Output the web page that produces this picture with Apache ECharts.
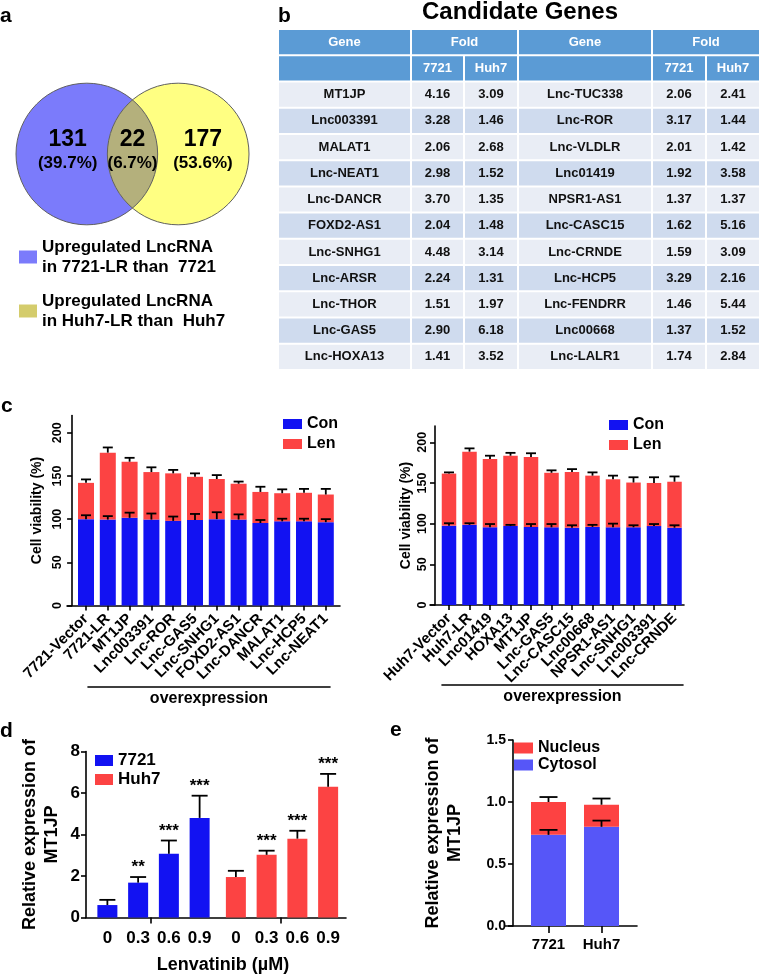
<!DOCTYPE html>
<html><head><meta charset="utf-8">
<script src="https://cdn.jsdelivr.net/npm/echarts@6/dist/echarts.min.js"></script>
<style>html,body{margin:0;padding:0;background:#fff}#c{width:762px;height:978px}</style>
</head><body><div id="c"></div>
<script>
// ================= DATA =================
// a) Venn
const vennLegend = ['Upregulated LncRNA\nin 7721-LR than  7721', 'Upregulated LncRNA\nin Huh7-LR than  Huh7'];
const vennCounts = [131, 22, 177]; // 7721-only, both, Huh7-only

// b) Candidate genes table
const tableTitle = 'Candidate Genes';
const tableHead1 = ['Gene', 'Fold', 'Gene', 'Fold'];
const tableHead2 = ['7721', 'Huh7'];
const genesL = ['MT1JP','Lnc003391','MALAT1','Lnc-NEAT1','Lnc-DANCR','FOXD2-AS1','Lnc-SNHG1','Lnc-ARSR','Lnc-THOR','Lnc-GAS5','Lnc-HOXA13'];
const fold7721L = [4.16,3.28,2.06,2.98,3.70,2.04,4.48,2.24,1.51,2.90,1.41];
const foldHuh7L = [3.09,1.46,2.68,1.52,1.35,1.48,3.14,1.31,1.97,6.18,3.52];
const genesR = ['Lnc-TUC338','Lnc-ROR','Lnc-VLDLR','Lnc01419','NPSR1-AS1','Lnc-CASC15','Lnc-CRNDE','Lnc-HCP5','Lnc-FENDRR','Lnc00668','Lnc-LALR1'];
const fold7721R = [2.06,3.17,2.01,1.92,1.37,1.62,1.59,3.29,1.46,1.37,1.74];
const foldHuh7R = [2.41,1.44,1.42,3.58,1.37,5.16,3.09,2.16,5.44,1.52,2.84];

// c) Cell viability
const cLeftCats = ['7721-Vector','7721-LR','MT1JP','Lnc003391','Lnc-ROR','Lnc-GAS5','Lnc-SNHG1','FOXD2-AS1','Lnc-DANCR','MALAT1','Lnc-HCP5','Lnc-NEAT1'];
const cLeftCon    = [100, 99.5, 101.5, 99.5, 98, 99, 100, 99.5, 95.5, 97.5, 97.5, 96.5];
const cLeftConErr = [4.5, 4, 6, 7, 5, 7, 8, 6, 3.5, 3, 3, 3.5];
const cLeftLen    = [42, 77.5, 65, 55, 55, 50, 46.5, 41.5, 36, 32.5, 33, 32];
const cLeftLenErr = [4, 6, 4.5, 5.5, 4, 4, 4.5, 2.5, 6, 4.5, 4.5, 6.5];
const cRightCats = ['Huh7-Vector','Huh7-LR','Lnc01419','HOXA13','MT1JP','Lnc-GAS5','Lnc-CASC15','Lnc00668','NPSR1-AS1','Lnc-SNHG1','Lnc003391','Lnc-CRNDE'];
const cRightCon    = [97.5, 98.5, 95.5, 97, 96, 95.5, 95, 96, 95.5, 95.5, 97, 95];
const cRightConErr = [3, 2, 4, 1.5, 3.5, 4, 3, 2.5, 4.5, 2.5, 2.5, 3];
const cRightLen    = [64, 90, 84, 86.5, 86, 67, 68.5, 63, 59, 55, 53, 56.5];
const cRightLenErr = [1.5, 4, 4, 3.5, 4.5, 3, 3.5, 4, 4.5, 6.5, 7, 6.5];
const cYTicks = [0, 50, 100, 150, 200];

// d) MT1JP vs Lenvatinib
const dDoses = ['0', '0.3', '0.6', '0.9'];
const d7721 = [0.6, 1.68, 3.07, 4.8];
const d7721Err = [0.25, 0.27, 0.64, 1.07];
const d7721Stars = ['', '**', '***', '***'];
const dHuh7 = [1.95, 3.02, 3.8, 6.3];
const dHuh7Err = [0.3, 0.2, 0.38, 0.62];
const dHuh7Stars = ['', '***', '***', '***'];

// e) Subcellular distribution
const eCells = ['7721', 'Huh7'];
const eCytosol = [0.735, 0.80];
const eCytosolErr = [0.04, 0.05];
const eNucleus = [0.265, 0.178];
const eNucleusErr = [0.04, 0.05];

// ================= STYLE / LAYOUT =================
const FONT = '"Liberation Sans", Arial, Helvetica, sans-serif';
const bf = s => 'bold ' + s + 'px ' + FONT;
const BLUE = '#1212f2', RED = '#fc4343';
const CYT = '#5656f8', NUC = '#fd4242';
const VENN_A = '#7b7bfb', VENN_B = '#ffff82', VENN_AB = '#b4b07c', VENN_B_ICON = '#d4cc6c';
const VG = {r: 1, cx: [1, 2.29], cy: 1, labelX: [0.73, 1.645, 2.64], numY: 1.2, pctY: 0.87};
const COLW = [133, 53, 54, 134, 54, 54];
const colEdge = [0]; COLW.forEach(w => colEdge.push(colEdge[colEdge.length - 1] + w));
const AX = {color: '#000', width: 1.6};
const txt = (size) => ({color: '#000', fontWeight: 'bold', fontSize: size, fontFamily: FONT});

const grids = [], xAxes = [], yAxes = [], series = [];
function addGrid(rect, xa, ya) {
  const i = grids.length;
  grids.push(Object.assign({containLabel: false}, rect));
  xAxes.push(Object.assign({gridIndex: i}, xa));
  yAxes.push(Object.assign({gridIndex: i}, ya));
  return i;
}
function errRender(capHalf, stars, lw) {
  return function (params, api) {
    const x = api.value(0), top = api.value(1), e = api.value(2);
    const p0 = api.coord([x, top]), p1 = api.coord([x, top + e]);
    const st = {stroke: '#000', lineWidth: lw || 1.8};
    const ch = [
      {type: 'line', shape: {x1: p0[0], y1: p0[1], x2: p1[0], y2: p1[1]}, style: st},
      {type: 'line', shape: {x1: p1[0] - capHalf, y1: p1[1], x2: p1[0] + capHalf, y2: p1[1]}, style: st}
    ];
    if (stars && stars[params.dataIndex]) {
      ch.push({type: 'text', x: p1[0], y: p1[1] - 1,
        style: {text: stars[params.dataIndex], font: bf(17), fill: '#000', align: 'center', verticalAlign: 'bottom'}});
    }
    return {type: 'group', children: ch};
  };
}
function errSeries(g, data, capHalf, stars) {
  return {type: 'custom', xAxisIndex: g, yAxisIndex: g, data: data, z: 6, silent: true,
    encode: {x: 0, y: 1}, renderItem: errRender(capHalf, stars)};
}

// ---------- a) Venn ----------
const gV = addGrid({left: 16, top: 83, width: 233, height: 142},
  {type: 'value', min: 0, max: 3.29, show: false},
  {type: 'value', min: 0, max: 2, show: false});
function circleRender(i, fill) {
  return function (params, api) {
    const c = api.coord([VG.cx[i], VG.cy]);
    const r = api.size([VG.r, 0])[0];
    return {type: 'circle', shape: {cx: c[0], cy: c[1], r: r}, style: {fill: fill}};
  };
}
series.push({type: 'custom', name: vennLegend[0], xAxisIndex: gV, yAxisIndex: gV, z: 2, silent: true,
  data: [[0, 0, vennCounts[0] + vennCounts[1]]], renderItem: circleRender(0, VENN_A)});
series.push({type: 'custom', name: vennLegend[1], xAxisIndex: gV, yAxisIndex: gV, z: 3, silent: true,
  data: [[0, 0, vennCounts[2] + vennCounts[1]]], renderItem: circleRender(1, VENN_B)});
const vennTotal = vennCounts.reduce((a, b) => a + b, 0);
series.push({type: 'custom', name: 'overlap', xAxisIndex: gV, yAxisIndex: gV, z: 4, silent: true,
  data: [[0, 0, vennCounts[1]]],
  renderItem: function (params, api) {
    const c0 = api.coord([VG.cx[0], VG.cy]), c1 = api.coord([VG.cx[1], VG.cy]);
    const r = api.size([VG.r, 0])[0];
    const a = (c1[0] - c0[0]) / 2, h = Math.sqrt(r * r - a * a), mx = c0[0] + a;
    const path = 'M' + mx + ' ' + (c0[1] - h) + ' A' + r + ' ' + r + ' 0 0 1 ' + mx + ' ' + (c0[1] + h) +
      ' A' + r + ' ' + r + ' 0 0 1 ' + mx + ' ' + (c0[1] - h) + ' Z';
    const ch = [
      {type: 'path', shape: {pathData: path}, style: {fill: VENN_AB}},
      {type: 'circle', shape: {cx: c0[0], cy: c0[1], r: r}, style: {fill: 'none', stroke: '#606060', lineWidth: 1}},
      {type: 'circle', shape: {cx: c1[0], cy: c1[1], r: r}, style: {fill: 'none', stroke: '#606060', lineWidth: 1}}
    ];
    vennCounts.forEach((v, i) => {
      const pn = api.coord([VG.labelX[i], VG.numY]);
      const pp = api.coord([VG.labelX[i], VG.pctY]);
      ch.push({type: 'text', x: pn[0], y: pn[1], style: {text: String(v), font: bf(23), fill: '#000', align: 'center', verticalAlign: 'middle'}});
      ch.push({type: 'text', x: pp[0], y: pp[1], style: {text: '(' + (v / vennTotal * 100).toFixed(1) + '%)', font: bf(17), fill: '#000', align: 'center', verticalAlign: 'middle'}});
    });
    return {type: 'group', children: ch};
  }});

// ---------- b) Table ----------
const tableRows = Array.from({length: genesL.length + 2}, (_, i) => i);
const cells = [];
cells.push([0, 0, 0, tableHead1[0]], [1, 2, 0, tableHead1[1]], [3, 3, 0, tableHead1[2]], [4, 5, 0, tableHead1[3]]);
cells.push([0, 0, 1, ''], [1, 1, 1, tableHead2[0]], [2, 2, 1, tableHead2[1]], [3, 3, 1, ''], [4, 4, 1, tableHead2[0]], [5, 5, 1, tableHead2[1]]);
genesL.forEach((g, i) => {
  const r = i + 2;
  cells.push([0, 0, r, g], [1, 1, r, fold7721L[i].toFixed(2)], [2, 2, r, foldHuh7L[i].toFixed(2)],
    [3, 3, r, genesR[i]], [4, 4, r, fold7721R[i].toFixed(2)], [5, 5, r, foldHuh7R[i].toFixed(2)]);
});
const gT = addGrid({left: 278, top: 29, width: 482, height: 341},
  {type: 'value', min: 0, max: colEdge[colEdge.length - 1], show: false},
  {type: 'category', data: tableRows, inverse: true, show: false});
series.push({type: 'custom', name: 'table', xAxisIndex: gT, yAxisIndex: gT, silent: true, z: 2,
  encode: {x: [0, 1], y: 2},
  data: cells.map(c => [colEdge[c[0]], colEdge[c[1] + 1], c[2]]),
  renderItem: function (params, api) {
    const row = api.value(2);
    const p0 = api.coord([api.value(0), row]), p1 = api.coord([api.value(1), row]);
    const h = api.size([0, 1])[1];
    const head = row < 2;
    const fill = head ? '#5b9bd5' : ((row - 2) % 2 === 0 ? '#e9edf5' : '#cfdbee');
    return {type: 'group', children: [
      {type: 'rect', shape: {x: p0[0] + 1, y: p0[1] - h / 2 + 1, width: p1[0] - p0[0] - 2, height: h - 2}, style: {fill: fill}},
      {type: 'text', x: (p0[0] + p1[0]) / 2, y: p0[1], style: {text: cells[params.dataIndex][3], font: bf(13),
        fill: head ? '#fff' : '#111', align: 'center', verticalAlign: 'middle'}}
    ]};
  }});

// ---------- c) Cell viability ----------
function panelC(o) {
  addGrid({left: o.frameL, width: o.frameW, top: o.top, height: o.h},
    {type: 'category', data: [''], axisLine: {show: true, lineStyle: AX}, axisTick: {show: false}, axisLabel: {show: false}},
    {type: 'value', min: 0, max: 220, show: false});
  const g = addGrid({left: o.left, width: o.w, top: o.top, height: o.h},
    {type: 'category', data: o.cats, axisLine: {show: false},
      axisTick: {show: true, alignWithLabel: true, length: 5, lineStyle: AX},
      axisLabel: Object.assign({interval: 0, rotate: 45, margin: 11}, txt(15))},
    {type: 'value', min: 0, max: 220, interval: 50, offset: o.yOff,
      axisLine: {show: true, lineStyle: AX}, axisTick: {show: true, length: 5, lineStyle: AX},
      splitLine: {show: false},
      axisLabel: Object.assign({rotate: 90, showMaxLabel: false, margin: o.lblM,
        formatter: v => (cYTicks.indexOf(v) >= 0 ? String(v) : '')}, txt(12.5)),
      name: 'Cell viability (%)', nameLocation: 'middle', nameRotate: 90, nameGap: o.nameGap, nameTextStyle: txt(14)});
  addGrid({left: o.ulL, width: o.ulW, top: o.top, height: o.ulY - o.top},
    {type: 'category', data: [''], axisLine: {show: true, lineStyle: AX}, axisTick: {show: false}, axisLabel: {show: false},
      name: 'overexpression', nameLocation: 'middle', nameGap: 4, nameTextStyle: txt(16)},
    {type: 'value', show: false});
  series.push({type: 'bar', name: 'Con', stack: 'c' + g, xAxisIndex: g, yAxisIndex: g, data: o.con, barWidth: o.bw, itemStyle: {color: BLUE}, z: 3});
  series.push({type: 'bar', name: 'Len', stack: 'c' + g, xAxisIndex: g, yAxisIndex: g, data: o.len, barWidth: o.bw, itemStyle: {color: RED}, z: 3});
  const ed = o.con.map((v, i) => [i, v, o.conErr[i]]).concat(o.len.map((v, i) => [i, o.con[i] + v, o.lenErr[i]]));
  series.push(errSeries(g, ed, 5));
}
panelC({cats: cLeftCats, con: cLeftCon, conErr: cLeftConErr, len: cLeftLen, lenErr: cLeftLenErr,
  top: 415.5, h: 190, left: 75.1, w: 261.6, yOff: 3, lblM: 8, nameGap: 28,
  frameL: 67, frameW: 273, ulL: 88, ulW: 242, ulY: 687, bw: 16});
panelC({cats: cRightCats, con: cRightCon, conErr: cRightConErr, len: cRightLen, lenErr: cRightLenErr,
  top: 426, h: 179, left: 438.75, w: 246, yOff: 3.75, lblM: 6, nameGap: 22,
  frameL: 430, frameW: 254, ulL: 442, ulW: 241, ulY: 685, bw: 14.5});

// ---------- d) MT1JP expression vs Lenvatinib ----------
const dTop = 751.5, dH = 166;
addGrid({left: 86, width: 260, top: dTop, height: dH},
  {type: 'category', data: ['', ''], axisLine: {show: true, lineStyle: AX},
    axisTick: {show: true, alignWithLabel: true, length: 6, lineStyle: AX}, axisLabel: {show: false}},
  {type: 'value', min: 0, max: 8, interval: 2, axisLine: {show: true, lineStyle: AX},
    axisTick: {show: true, length: 5, lineStyle: AX}, splitLine: {show: false},
    axisLabel: Object.assign({margin: 6}, txt(17)),
    name: 'Relative expression of\nMT1JP', nameLocation: 'middle', nameRotate: 90, nameGap: 23,
    nameTextStyle: Object.assign({lineHeight: 22}, txt(18))});
const dLblAxis = data => ({type: 'category', data: data, axisLine: {show: false}, axisTick: {show: false},
  axisLabel: Object.assign({interval: 0, margin: 12}, txt(17))});
const gD1 = addGrid({left: 92, width: 123, top: dTop, height: dH}, dLblAxis(dDoses), {type: 'value', min: 0, max: 8, show: false});
const gD2 = addGrid({left: 220.5, width: 123, top: dTop, height: dH}, dLblAxis(dDoses), {type: 'value', min: 0, max: 8, show: false});
series.push({type: 'bar', name: '7721', xAxisIndex: gD1, yAxisIndex: gD1, data: d7721, barWidth: 20, itemStyle: {color: BLUE}, z: 3});
series.push({type: 'bar', name: 'Huh7', xAxisIndex: gD2, yAxisIndex: gD2, data: dHuh7, barWidth: 20, itemStyle: {color: RED}, z: 3});
series.push(errSeries(gD1, d7721.map((v, i) => [i, v, d7721Err[i]]), 8, d7721Stars));
series.push(errSeries(gD2, dHuh7.map((v, i) => [i, v, dHuh7Err[i]]), 8, dHuh7Stars));

// ---------- e) Subcellular distribution ----------
const eTop = 740, eH = 186;
addGrid({left: 505, width: 132, top: eTop, height: eH},
  {type: 'category', data: [''], axisLine: {show: true, lineStyle: AX}, axisTick: {show: false}, axisLabel: {show: false}},
  {type: 'value', min: 0, max: 1.5, show: false});
const gE = addGrid({left: 522, width: 106, top: eTop, height: eH},
  {type: 'category', data: eCells, axisLine: {show: false},
    axisTick: {show: true, alignWithLabel: true, length: 7, lineStyle: AX},
    axisLabel: Object.assign({interval: 0, margin: 11}, txt(15))},
  {type: 'value', min: 0, max: 1.5, interval: 0.5, offset: 9, axisLine: {show: true, lineStyle: AX},
    axisTick: {show: true, length: 5, lineStyle: AX}, splitLine: {show: false},
    axisLabel: Object.assign({margin: 7, formatter: v => v.toFixed(1)}, txt(14)),
    name: 'Relative expression of\nMT1JP', nameLocation: 'middle', nameRotate: 90, nameGap: 47,
    nameTextStyle: Object.assign({lineHeight: 22}, txt(18))});
series.push({type: 'bar', name: 'Cytosol', stack: 'e', xAxisIndex: gE, yAxisIndex: gE, data: eCytosol, barWidth: 35, itemStyle: {color: CYT}, z: 3});
series.push({type: 'bar', name: 'Nucleus', stack: 'e', xAxisIndex: gE, yAxisIndex: gE, data: eNucleus, barWidth: 35, itemStyle: {color: NUC}, z: 3});
series.push(errSeries(gE, eCytosol.map((v, i) => [i, v, eCytosolErr[i]]).concat(eNucleus.map((v, i) => [i, eCytosol[i] + v, eNucleusErr[i]])), 9));

// ---------- legends ----------
const legBase = (o) => Object.assign({orient: 'vertical', icon: 'rect', padding: 0, selectedMode: false}, o);
const legends = [
  legBase({left: 19, top: 237, itemGap: 14, itemWidth: 18, itemHeight: 13,
    data: [{name: vennLegend[0], itemStyle: {color: VENN_A}}, {name: vennLegend[1], itemStyle: {color: VENN_B_ICON}}],
    textStyle: Object.assign({lineHeight: 20}, txt(17))}),
  legBase({left: 283, top: 415, itemGap: 2, itemWidth: 19, itemHeight: 10, data: ['Con', 'Len'],
    textStyle: Object.assign({lineHeight: 18}, txt(16))}),
  legBase({left: 609, top: 416, itemGap: 2, itemWidth: 19, itemHeight: 10, data: ['Con', 'Len'],
    textStyle: Object.assign({lineHeight: 18}, txt(16))}),
  legBase({left: 95, top: 752, itemGap: 2, itemWidth: 18, itemHeight: 11, data: ['7721', 'Huh7'],
    textStyle: Object.assign({lineHeight: 17}, txt(17))}),
  legBase({left: 514, top: 740, itemGap: 1, itemWidth: 19, itemHeight: 11, data: ['Nucleus', 'Cytosol'],
    textStyle: Object.assign({lineHeight: 16}, txt(16))})
];

// ---------- letters & titles ----------
const gtext = (x, y, text, size, align) => ({type: 'text', x: x, y: y, z: 100,
  style: {text: text, font: bf(size), fill: '#000', align: align || 'left', verticalAlign: 'middle'}});
const graphic = [
  gtext(0, 16, 'a', 21), gtext(278, 16, 'b', 21), gtext(1, 406, 'c', 21), gtext(0, 731, 'd', 21), gtext(390, 730, 'e', 21),
  gtext(520, 12, tableTitle, 24, 'center'),
  gtext(223, 965, 'Lenvatinib (\u00b5M)', 18, 'center')
];

const chart = echarts.init(document.getElementById('c'), null, {renderer: 'canvas'});
chart.setOption({
  animation: false, backgroundColor: '#fff', textStyle: {fontFamily: FONT},
  grid: grids, xAxis: xAxes, yAxis: yAxes, series: series, legend: legends, graphic: graphic
});
</script></body></html>
